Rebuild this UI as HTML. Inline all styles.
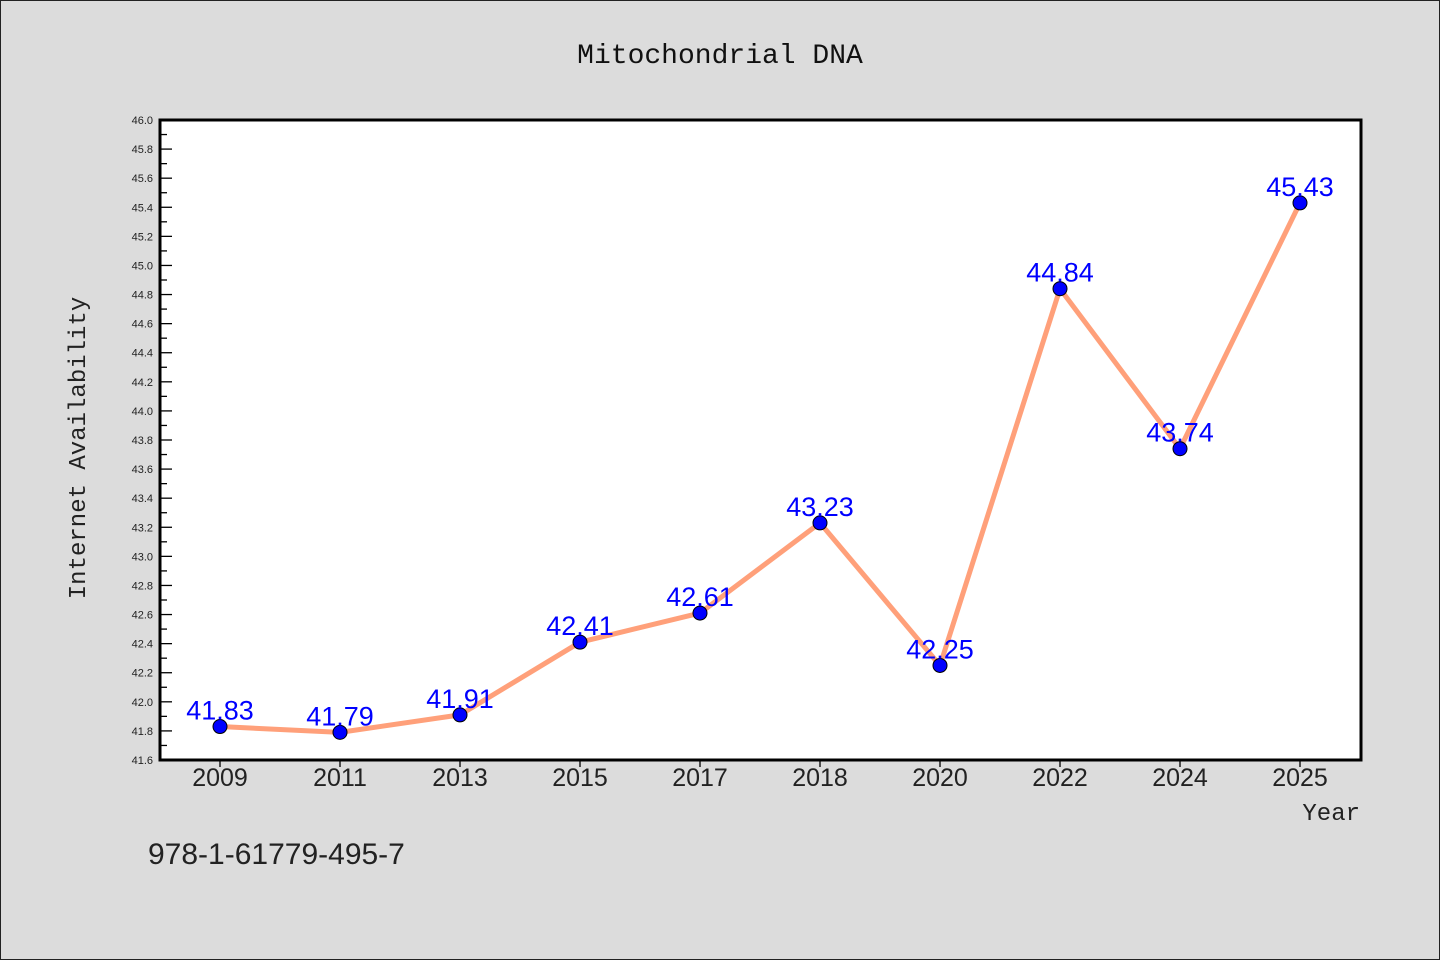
<!DOCTYPE html>
<html><head><meta charset="utf-8"><style>
body{margin:0;background:#dcdcdc;}
svg{display:block;font-family:"Liberation Sans","DejaVu Sans",sans-serif;}
</style></head><body>
<svg id="chart" width="1440" height="960">
<rect x="0.5" y="0.5" width="1439" height="959" fill="#dcdcdc" stroke="#222"/>
<text x="720" y="63" text-anchor="middle" font-size="28" font-family="Liberation Mono,DejaVu Sans Mono,monospace" fill="#111">Mitochondrial DNA</text>
<rect x="160" y="120" width="1201" height="640" fill="#fff"/>
<g id="yticks"></g><g id="xticks"></g>
<polyline id="line" fill="none" stroke="#ffa07a" stroke-width="5" stroke-linejoin="round"/>
<g id="points"></g>
<rect x="160" y="120" width="1201" height="640" fill="none" stroke="#000" stroke-width="3"/>
<text transform="translate(85,448) rotate(-90)" text-anchor="middle" font-size="24" font-family="Liberation Mono,DejaVu Sans Mono,monospace" fill="#222">Internet Availability</text>
<text x="1360" y="820" text-anchor="end" font-size="24" font-family="Liberation Mono,DejaVu Sans Mono,monospace" fill="#222">Year</text>
<text x="148" y="864" font-size="30" fill="#222">978-1-61779-495-7</text>
</svg>
<script>
const categories=["2009","2011","2013","2015","2017","2018","2020","2022","2024","2025"];
const values=[41.83,41.79,41.91,42.41,42.61,43.23,42.25,44.84,43.74,45.43];
const valueLabels=["41.83","41.79","41.91","42.41","42.61","43.23","42.25","44.84","43.74","45.43"];
const yMin=41.6,yMax=46.0;
const NS="http://www.w3.org/2000/svg";
const x=i=>220+i*120;
const y=v=>760-(v-yMin)/(yMax-yMin)*640;
function mk(t,a,p){const e=document.createElementNS(NS,t);for(const k in a)e.setAttribute(k,a[k]);p.appendChild(e);return e;}
const yt=document.getElementById('yticks');
for(let k=0;k<=44;k++){const v=yMin+k*0.1;const yy=y(v);const major=k%2==0;
 const l=mk('line',{x1:160,x2:major?172:167,y1:yy,y2:yy,stroke:'#000','stroke-width':1.3},yt);
 
 
 if(major){const t=mk('text',{x:153,y:yy+4,'text-anchor':'end','font-size':11,fill:'#222'},yt);t.textContent=v.toFixed(1);
 
 }}
const xt=document.getElementById('xticks');
categories.forEach((c,i)=>{const l=mk('line',{x1:x(i),x2:x(i),y1:760,y2:767,stroke:'#000','stroke-width':1.3},xt);
 
 
 const t=mk('text',{x:x(i),y:786,'text-anchor':'middle','font-size':25,fill:'#222'},xt);t.textContent=c;
 
 });
document.getElementById('line').setAttribute('points',values.map((v,i)=>x(i)+','+y(v)).join(' '));
const pg=document.getElementById('points');
values.forEach((v,i)=>{const c=mk('circle',{cx:x(i),cy:y(v),r:7,fill:'#0000ff',stroke:'#000','stroke-width':1},pg);
 
 
 const t=mk('text',{x:x(i),y:y(v)-7,'text-anchor':'middle','font-size':27,fill:'#0000ff'},pg);t.textContent=valueLabels[i];
 
 });
</script>
</body></html>
